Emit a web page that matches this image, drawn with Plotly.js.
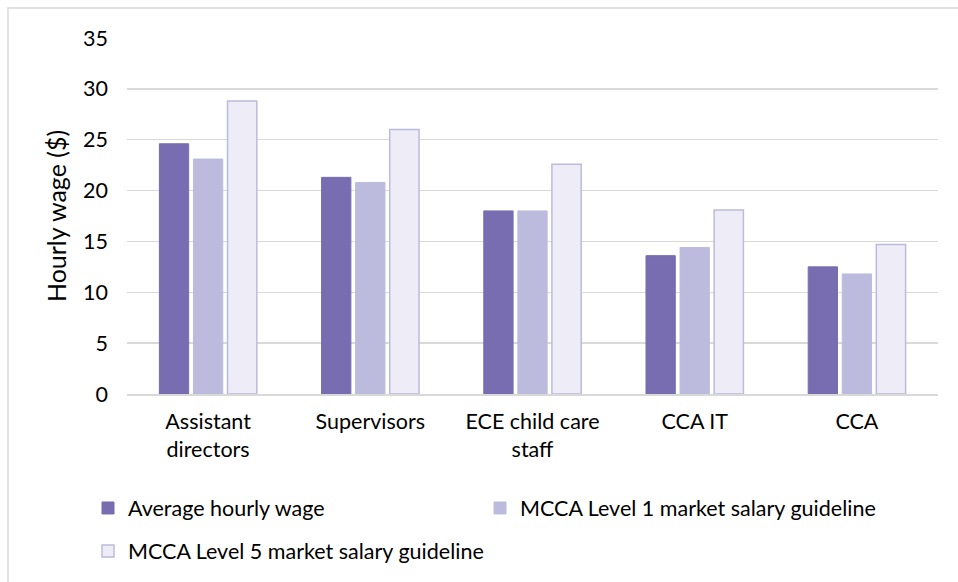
<!DOCTYPE html>
<html>
<head>
<meta charset="utf-8">
<script src="https://cdn.plot.ly/plotly-3.0.1.min.js"></script>
<style>
html,body{margin:0;padding:0;background:#fff;}
#chart{width:958px;height:582px;}
</style>
</head>
<body>
<div id="chart"></div>
<script>
var categories = ["Assistant<br>directors", "Supervisors", "ECE child care<br>staff", "CCA IT", "CCA"];
var seriesNames = ["Average hourly wage", "MCCA Level 1 market salary guideline", "MCCA Level 5 market salary guideline"];
var averageWage = [24.6, 21.3, 18.0, 13.6, 12.5];
var level1Guideline = [23.1, 20.8, 18.0, 14.4, 11.8];
var level5Guideline = [28.8, 26.0, 22.6, 18.1, 14.7];
var yTicks = [0, 5, 10, 15, 20, 25, 30, 35];

var font = "Lato, Carlito, Open Sans, sans-serif";
var fs = 21.5;

var traces = [
  {type: "bar", name: seriesNames[0], x: categories, y: averageWage, legend: "legend",
   marker: {color: "#776DB0", line: {color: "#776DB0", width: 1}}},
  {type: "bar", name: seriesNames[1], x: categories, y: level1Guideline, legend: "legend3",
   marker: {color: "#BCBBDD", line: {color: "#BCBBDD", width: 1}}},
  {type: "bar", name: seriesNames[2], x: categories, y: level5Guideline, legend: "legend2",
   marker: {color: "#EEECF6", line: {color: "#BCBBDD", width: 1.5}}}
];

var legendCommon = {
  orientation: "h", xanchor: "left", yanchor: "middle",
  font: {family: font, size: fs, color: "#000"},
  itemwidth: 30, traceorder: "normal", bgcolor: "rgba(0,0,0,0)"
};

var layout = {
  width: 958, height: 582,
  margin: {l: 127, r: 20, t: 38, b: 187},
  paper_bgcolor: "#ffffff", plot_bgcolor: "#ffffff",
  font: {family: font, size: fs, color: "#000000"},
  barmode: "group",
  bargap: 0.37,
  bargroupgap: 0.14,
  showlegend: true,
  hovermode: false,
  xaxis: {
    type: "category",
    showgrid: false, zeroline: false,
    showline: true, linecolor: "#D9D9D9", linewidth: 1.5,
    ticks: "", ticklabelstandoff: 8,
    tickfont: {family: font, size: fs, color: "#000"},
    automargin: false
  },
  yaxis: {
    range: [0, 35], tickvals: yTicks, ticktext: yTicks.map(String),
    showgrid: true, gridcolor: "#D9D9D9", gridwidth: 1.5,
    zeroline: false, showline: false, ticks: "",
    ticklabelstandoff: 18,
    tickfont: {family: font, size: fs, color: "#000"},
    title: {text: "Hourly wage ($)", font: {family: font, size: 25, color: "#000"}, standoff: 9},
    automargin: false
  },
  legend: Object.assign({}, legendCommon, {
    x: (88 - 127) / 811, y: (395 - 508) / 357
  }),
  legend3: Object.assign({}, legendCommon, {
    x: (480 - 127) / 811, y: (395 - 508) / 357
  }),
  legend2: Object.assign({}, legendCommon, {
    x: (88 - 127) / 811, y: (395 - 551) / 357
  }),
  shapes: [{
    type: "rect", xref: "paper", yref: "paper",
    x0: (8 - 127) / 811, x1: (980 - 127) / 811,
    y0: (395 - 600) / 357, y1: (395 - 8) / 357,
    line: {color: "#D9D9D9", width: 1.5}, fillcolor: "rgba(0,0,0,0)", layer: "below"
  }]
};

Plotly.newPlot("chart", traces, layout, {displayModeBar: false, staticPlot: true});
</script>
</body>
</html>
